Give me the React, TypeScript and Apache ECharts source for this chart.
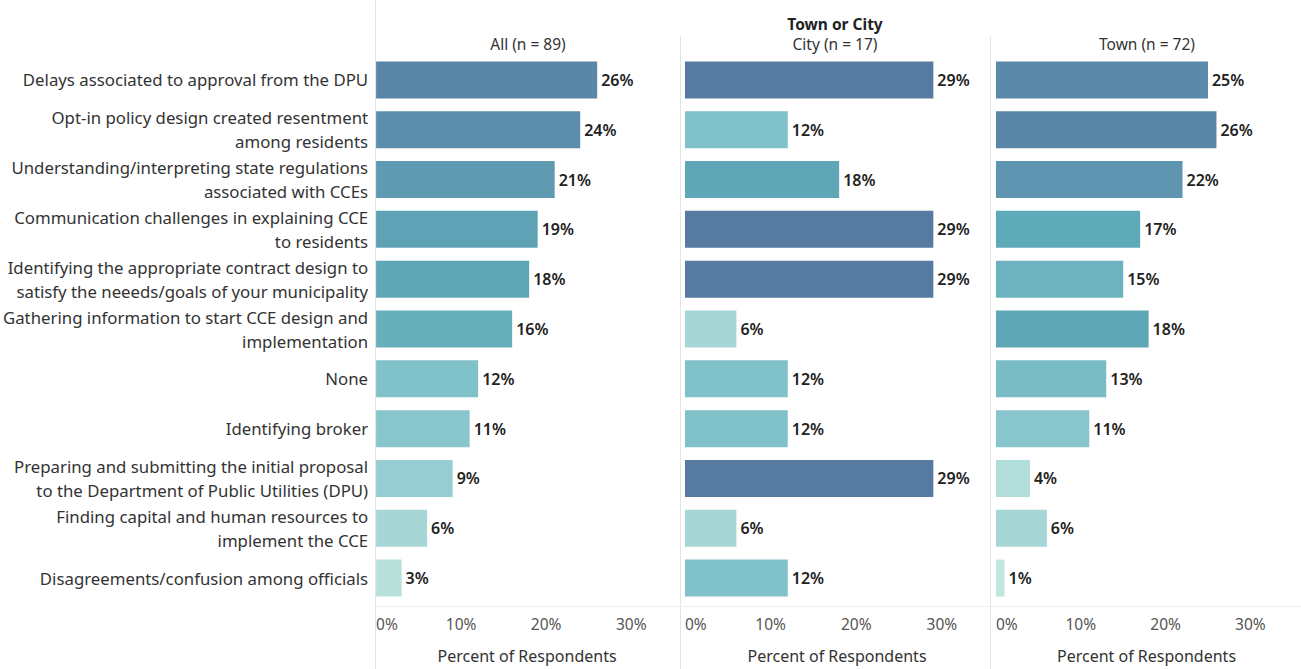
import React, { useEffect, useRef } from "react";
import * as echarts from "echarts";

const categories = [
  "Delays associated to approval from the DPU",
  "Opt-in policy design created resentment\namong residents",
  "Understanding/interpreting state regulations\nassociated with CCEs",
  "Communication challenges in explaining CCE\nto residents",
  "Identifying the appropriate contract design to\nsatisfy the neeeds/goals of your municipality",
  "Gathering information to start CCE design and\nimplementation",
  "None",
  "Identifying broker",
  "Preparing and submitting the initial proposal\nto the Department of Public Utilities (DPU)",
  "Finding capital and human resources to\nimplement the CCE",
  "Disagreements/confusion among officials",
];

const panelTitles = ["All (n = 89)", "City (n = 17)", "Town (n = 72)"];
const groupTitle = "Town or City";

const allValues = [26, 24, 21, 19, 18, 16, 12, 11, 9, 6, 3];
const cityValues = [29, 12, 18, 29, 29, 6, 12, 12, 29, 6, 12];
const townValues = [25, 26, 22, 17, 15, 18, 13, 11, 4, 6, 1];

const xTicks = [0, 10, 20, 30];
const axisName = "Percent of Respondents";

const colorStops: [number, number[]][] = [
  [0, [200, 233, 224]],
  [10, [143, 202, 208]],
  [17, [95, 170, 184]],
  [22, [95, 149, 176]],
  [29, [86, 122, 160]],
];

function colorFor(v: number): string {
  let i = 0;
  while (i < colorStops.length - 2 && v > colorStops[i + 1][0]) i++;
  const [a, ca] = colorStops[i];
  const [b, cb] = colorStops[i + 1];
  const t = Math.max(0, Math.min(1, (v - a) / (b - a)));
  const c = ca.map((x, k) => Math.round(x + (cb[k] - x) * t));
  return `rgb(${c[0]},${c[1]},${c[2]})`;
}

const FONT = "Noto Sans";

export default function App() {
  const ref = useRef<HTMLDivElement>(null);
  useEffect(() => {
    document.body.style.margin = "0";
    const chart = echarts.init(ref.current!, undefined, { renderer: "svg" });
    const grids = [
      { left: 376, width: 302 },
      { left: 685, width: 304 },
      { left: 996, width: 301 },
    ];
    const seriesData = [allValues, cityValues, townValues];
    const option: any = {
      animation: false,
      backgroundColor: "#ffffff",
      textStyle: { fontFamily: FONT },
      grid: grids.map((g) => ({ left: g.left, width: g.width, top: 55, height: 551, containLabel: false })),
      xAxis: grids.map((_, i) => ({
        type: "value",
        gridIndex: i,
        min: 0,
        max: 35.5,
        interval: 10,
        splitLine: { show: false },
        axisLine: { show: false },
        axisTick: { show: false },
        axisLabel: {
          formatter: (v: number) => (xTicks.includes(v) ? v + "%" : ""),
          color: "#555",
          fontSize: 15.5,
          fontFamily: FONT,
          margin: 13,
          alignMinLabel: "left",
          showMaxLabel: false,
        },
        name: axisName,
        nameLocation: "middle",
        nameGap: 45,
        nameTextStyle: { color: "#333", fontSize: 16, fontFamily: FONT },
      })),
      yAxis: grids.map((_, i) => ({
        type: "category",
        gridIndex: i,
        data: categories,
        inverse: true,
        axisLine: { show: false },
        axisTick: { show: false },
        splitLine: { show: false },
        axisLabel: {
          show: i === 0,
          color: "#333",
          fontSize: 16.8,
          lineHeight: 24,
          fontFamily: FONT,
          margin: 8,
          align: "right",
        },
      })),
      series: seriesData.map((d, i) => ({
        type: "bar",
        xAxisIndex: i,
        yAxisIndex: i,
        data: d,
        barWidth: 37,
        itemStyle: { color: (p: any) => colorFor(p.value) },
        label: {
          show: true,
          position: "right",
          distance: 4,
          formatter: "{c}%",
          color: "#222",
          fontSize: 16,
          fontWeight: 600,
          fontFamily: FONT,
        },
      })),
      graphic: [
        { type: "line", shape: { x1: 375.5, y1: 0, x2: 375.5, y2: 669 }, style: { stroke: "#e4e4e4", lineWidth: 1 } },
        { type: "line", shape: { x1: 680.5, y1: 36, x2: 680.5, y2: 669 }, style: { stroke: "#e4e4e4", lineWidth: 1 } },
        { type: "line", shape: { x1: 990.5, y1: 36, x2: 990.5, y2: 669 }, style: { stroke: "#e4e4e4", lineWidth: 1 } },
        { type: "line", shape: { x1: 376, y1: 606.5, x2: 1301, y2: 606.5 }, style: { stroke: "#eeeeee", lineWidth: 1 } },
        { type: "text", x: 528, y: 44, style: { text: panelTitles[0], fontSize: 15.5, fill: "#333", fontFamily: FONT, textAlign: "center", textVerticalAlign: "middle" } },
        { type: "text", x: 835, y: 24, style: { text: groupTitle, fontSize: 15.5, fontWeight: "bold", fill: "#222", fontFamily: FONT, textAlign: "center", textVerticalAlign: "middle" } },
        { type: "text", x: 835, y: 44, style: { text: panelTitles[1], fontSize: 15.5, fill: "#333", fontFamily: FONT, textAlign: "center", textVerticalAlign: "middle" } },
        { type: "text", x: 1147, y: 44, style: { text: panelTitles[2], fontSize: 15.5, fill: "#333", fontFamily: FONT, textAlign: "center", textVerticalAlign: "middle" } },
      ],
    };
    chart.setOption(option);
    return () => chart.dispose();
  }, []);
  return <div ref={ref} style={{ width: 1301, height: 669 }} />;
}
